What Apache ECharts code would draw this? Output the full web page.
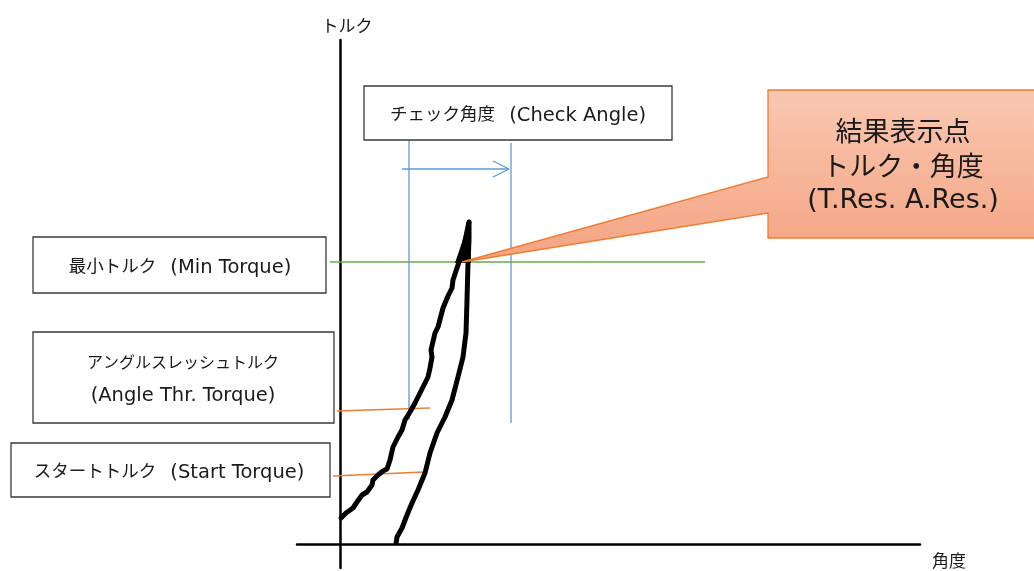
<!DOCTYPE html>
<html>
<head>
<meta charset="utf-8">
<script src="https://cdn.jsdelivr.net/npm/echarts@6/dist/echarts.min.js"></script>
<style>html,body{margin:0;padding:0;background:#fff}#c{width:1034px;height:571px}</style>
</head>
<body>
<div id="c"></div>
<script>
// data units: x = angle, y = torque (origin at axis crossing)
const loadingCurve = [[1,26],[6,31],[13,36],[17,42],[22,49],[27,52],[32,59],[33,64],[38,69],[43,73],[47,75],[50,84],[53,97],[58,107],[62,114],[65,124],[70,132],[75,141],[78,147],[83,157],[88,167],[90,176],[92,187],[91,194],[95,211],[98,217],[103,236],[108,248],[112,256],[113,264],[118,279],[123,294],[129,322]];
const unloadingCurve = [[129,322],[129,304],[128,281],[127,244],[126,211],[123,187],[118,167],[112,144],[105,127],[97,111],[90,91],[85,71],[78,54],[72,41],[67,29],[62,16],[57,7],[56,0]];
const peakWedge = [[115,281],[129,322],[131,281]];
const minTorqueLine = [[-10,282],[365,282]];
const checkStartLine = [[69,404],[69,124]];
const checkEndLine = [[171,401],[171,121]];
const checkArrow = [[62,375],[169,375]];
const checkArrowHead = [[153,383],[169,375],[153,367]];
const angleThrLine = [[-3,133],[90,136]];
const startTorqueLine = [[-7,68],[84,72]];
const axisNames = {x: '角度', y: 'トルク'};
const labels = {
  check: ['チェック角度', ' (Check Angle)'],
  min: ['最小トルク', ' (Min Torque)'],
  thr1: 'アングルスレッシュトルク',
  thr2: '(Angle Thr. Torque)',
  start: ['スタートトルク', ' (Start Torque)'],
  result: ['結果表示点', 'トルク・角度', '(T.Res. A.Res.)']
};

const JP = '"Noto Sans CJK JP", sans-serif';
const EN = '"DejaVu Sans", "Noto Sans CJK JP", sans-serif';
const rich = {
  j: {fontFamily: JP, fontSize: 17.5, fill: '#1a1a1a', verticalAlign: 'middle', lineHeight: 24, padding: [0, 0, 5, 0]},
  j2: {fontFamily: JP, fontSize: 16, fill: '#1a1a1a', verticalAlign: 'middle', lineHeight: 24},
  e: {fontFamily: EN, fontSize: 19.5, fill: '#1a1a1a', verticalAlign: 'middle', lineHeight: 24, padding: [0, 0, 0, 8]},
  e0: {fontFamily: EN, fontSize: 19.5, fill: '#1a1a1a', verticalAlign: 'middle', lineHeight: 24}
};
function box(x, y, w, h) {
  return {type: 'rect', shape: {x: x, y: y, width: w, height: h},
    style: {fill: '#fff', stroke: '#3a3a3a', lineWidth: 1.3}, z: 50};
}
function txt(x, y, text) {
  return {type: 'text', z: 51, style: {x: x, y: y, text: text, rich: rich,
    align: 'center', verticalAlign: 'middle', fontFamily: JP, fontSize: 16}};
}
function seg(data, color, width) {
  return {type: 'line', data: data, symbol: 'none', silent: true,
    lineStyle: {color: color, width: width, cap: 'butt'}, z: 3};
}

const chart = echarts.init(document.getElementById('c'));
chart.setOption({
  animation: false,
  grid: {left: 297, right: 114, top: 40, bottom: 3, outerBoundsMode: 'none', containLabel: false},
  xAxis: {type: 'value', min: -43, max: 580, name: axisNames.x, nameLocation: 'end', nameGap: 12,
    nameTextStyle: {fontFamily: JP, fontSize: 17, color: '#1a1a1a', align: 'left', verticalAlign: 'top', padding: [8, 0, 0, 0]},
    axisLine: {show: true, onZero: true, lineStyle: {color: '#000', width: 2.5}},
    axisTick: {show: false}, axisLabel: {show: false}, splitLine: {show: false}},
  yAxis: {type: 'value', min: -24, max: 504, name: axisNames.y, nameLocation: 'end', nameGap: 6,
    nameTextStyle: {fontFamily: JP, fontSize: 17, color: '#1a1a1a', padding: [0, 0, 0, 14]},
    axisLine: {show: true, onZero: true, lineStyle: {color: '#000', width: 2.5}},
    axisTick: {show: false}, axisLabel: {show: false}, splitLine: {show: false}},
  series: [
    seg(minTorqueLine, '#6aa84f', 1.3),
    seg(checkStartLine, '#5b9bd5', 1.3),
    seg(checkEndLine, '#5b9bd5', 1.3),
    seg(checkArrow, '#5b9bd5', 1.3),
    seg(checkArrowHead, '#5b9bd5', 1.3),
    seg(angleThrLine, '#ed7d31', 1.3),
    seg(startTorqueLine, '#ed7d31', 1.3),
    {type: 'line', data: loadingCurve, symbol: 'none', z: 5,
      lineStyle: {color: '#000', width: 5, join: 'round', cap: 'round'}},
    {type: 'line', data: unloadingCurve, symbol: 'none', z: 5,
      lineStyle: {color: '#000', width: 5, join: 'round', cap: 'butt'}},
    {type: 'custom', z: 6, data: [0], renderItem: function (params, api) {
      const pts = peakWedge.map(function (p) { return api.coord(p); });
      return {type: 'polygon', shape: {points: pts}, style: {fill: '#000'}};
    }}
  ],
  graphic: [
    box(364, 86, 308, 54), txt(518, 116, '{j|' + labels.check[0] + '}{e|' + labels.check[1] + '}'),
    box(33, 237, 293, 56), txt(180, 268, '{j|' + labels.min[0] + '}{e|' + labels.min[1] + '}'),
    box(33, 332, 301, 91), txt(183, 362, '{j2|' + labels.thr1 + '}'), txt(183, 396, '{e0|' + labels.thr2 + '}'),
    box(11, 443, 319, 54), txt(169, 473, '{j|' + labels.start[0] + '}{e|' + labels.start[1] + '}'),
    {type: 'polygon', z: 60,
      shape: {points: [[768, 90], [1040, 90], [1040, 238], [768, 238], [768, 213], [462, 262], [768, 177]]},
      style: {fill: new echarts.graphic.LinearGradient(0, 0, 0, 1, [
        {offset: 0, color: '#f9c8b2'}, {offset: 1, color: '#f4a381'}]),
        stroke: '#ed7d31', lineWidth: 1.3}},
    {type: 'text', z: 61, style: {x: 903, y: 166, align: 'center', verticalAlign: 'middle',
      text: '{j|' + labels.result[0] + '}\n{j|' + labels.result[1] + '}\n{e|' + labels.result[2] + '}',
      rich: {j: {fontFamily: JP, fontSize: 27, lineHeight: 35, fill: '#1a1a1a'},
             e: {fontFamily: EN, fontSize: 27, lineHeight: 35, fill: '#1a1a1a'}}}}
  ]
});
</script>
</body>
</html>
